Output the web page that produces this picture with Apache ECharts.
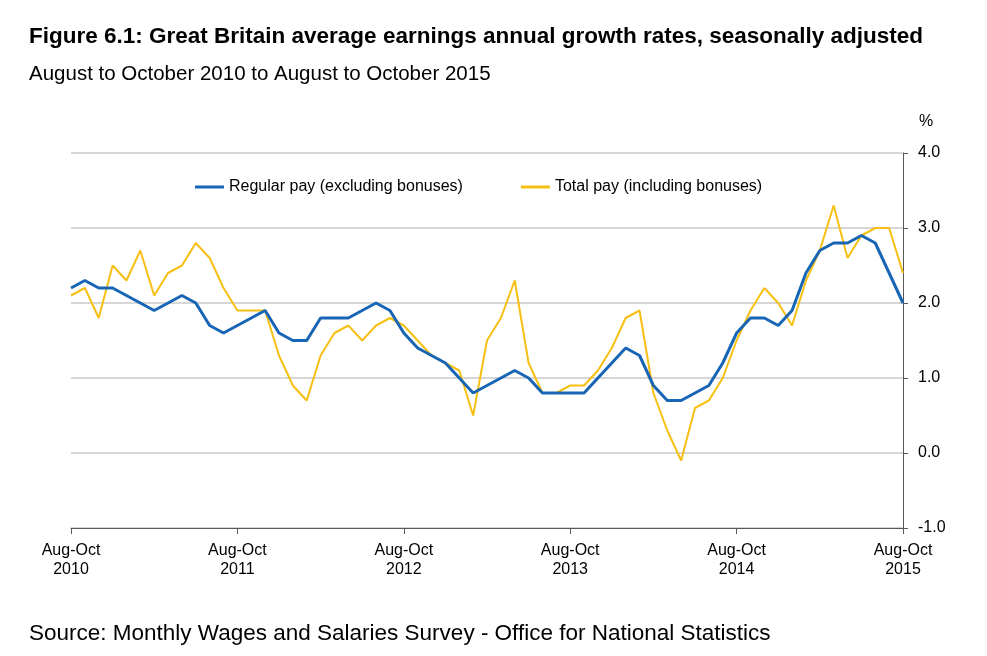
<!DOCTYPE html>
<html>
<head>
<meta charset="utf-8">
<script src="https://cdn.jsdelivr.net/npm/echarts@6/dist/echarts.min.js"></script>
<style>
html,body{margin:0;padding:0;background:#fff;}
#chart{width:987px;height:656px;}
</style>
</head>
<body>
<div id="chart"></div>
<script>
// Periods: rolling three-month periods, Aug-Oct 2010 .. Aug-Oct 2015
const months = ['Jan','Feb','Mar','Apr','May','Jun','Jul','Aug','Sep','Oct','Nov','Dec'];
const categories = [];
for (let k = 0; k < 61; k++) {
  const s = 7 + k; // Aug 2010 start
  const e = s + 2;
  const y1 = 2010 + Math.floor(e / 12);
  categories.push(months[s % 12] + '-' + months[e % 12] + ' ' + y1);
}

const regularPay = [
  2.2, 2.3, 2.2, 2.2, 2.1, 2.0, 1.9, 2.0, 2.1, 2.0, 1.7, 1.6,
  1.7, 1.8, 1.9, 1.6, 1.5, 1.5, 1.8, 1.8, 1.8, 1.9, 2.0, 1.9,
  1.6, 1.4, 1.3, 1.2, 1.0, 0.8, 0.9, 1.0, 1.1, 1.0, 0.8, 0.8,
  0.8, 0.8, 1.0, 1.2, 1.4, 1.3, 0.9, 0.7, 0.7, 0.8, 0.9, 1.2,
  1.6, 1.8, 1.8, 1.7, 1.9, 2.4, 2.7, 2.8, 2.8, 2.9, 2.8, 2.4,
  2.0
];
const totalPay = [
  2.1, 2.2, 1.8, 2.5, 2.3, 2.7, 2.1, 2.4, 2.5, 2.8, 2.6, 2.2,
  1.9, 1.9, 1.9, 1.3, 0.9, 0.7, 1.3, 1.6, 1.7, 1.5, 1.7, 1.8,
  1.7, 1.5, 1.3, 1.2, 1.1, 0.5, 1.5, 1.8, 2.3, 1.2, 0.8, 0.8,
  0.9, 0.9, 1.1, 1.4, 1.8, 1.9, 0.8, 0.3, -0.1, 0.6, 0.7, 1.0,
  1.5, 1.9, 2.2, 2.0, 1.7, 2.3, 2.7, 3.3, 2.6, 2.9, 3.0, 3.0,
  2.4
];
const yTicks = [-1, 0, 1, 2, 3, 4];

const chart = echarts.init(document.getElementById('chart'), null, {renderer: 'canvas'});
const FONT = '"Liberation Sans", Arial, sans-serif';
const annual = (i) => i % 12 === 0;

chart.setOption({
  animation: false,
  backgroundColor: '#ffffff',
  textStyle: {fontFamily: FONT},
  graphic: [
    {type: 'text', x: 29, y: 37, style: {text: 'Figure 6.1: Great Britain average earnings annual growth rates, seasonally adjusted', font: 'bold 22.5px ' + FONT, fill: '#000', textVerticalAlign: 'middle', verticalAlign: 'middle'}},
    {type: 'text', x: 29, y: 74, style: {text: 'August to October 2010 to August to October 2015', font: '20.5px ' + FONT, fill: '#000', textVerticalAlign: 'middle', verticalAlign: 'middle'}},
    {type: 'text', x: 919, y: 122, style: {text: '%', font: '16px ' + FONT, fill: '#000', textVerticalAlign: 'middle', verticalAlign: 'middle'}},
    {type: 'text', x: 29, y: 634, style: {text: 'Source: Monthly Wages and Salaries Survey - Office for National Statistics', font: '22.5px ' + FONT, fill: '#000', textVerticalAlign: 'middle', verticalAlign: 'middle'}}
  ],
  legend: {
    top: 174,
    left: 190,
    icon: 'rect',
    itemWidth: 29,
    itemHeight: 3,
    itemGap: 58,
    textStyle: {fontSize: 16, color: '#000', fontFamily: FONT},
    data: ['Regular pay (excluding bonuses)', 'Total pay (including bonuses)']
  },
  grid: {left: 71, right: 84, top: 153, bottom: 128, containLabel: false},
  xAxis: {
    type: 'category',
    data: categories,
    boundaryGap: false,
    axisLine: {onZero: false, lineStyle: {color: '#595959', width: 1}},
    axisTick: {show: true, interval: (i) => annual(i), length: 6, lineStyle: {color: '#595959'}},
    axisLabel: {
      interval: (i) => annual(i),
      formatter: (v) => {
        const p = v.split(' ');
        return p[0] + '\n' + p[1];
      },
      color: '#000', fontSize: 16, lineHeight: 19, margin: 13, fontFamily: FONT
    },
    splitLine: {show: false}
  },
  yAxis: {
    type: 'value',
    position: 'right',
    min: -1, max: 4, interval: 1,
    axisLine: {show: true, lineStyle: {color: '#595959', width: 1}},
    axisTick: {show: true, inside: false, length: 5, lineStyle: {color: '#595959'}},
    axisLabel: {formatter: (v) => v.toFixed(1), color: '#000', fontSize: 16, margin: 15, fontFamily: FONT},
    splitLine: {show: true, lineStyle: {color: '#c8c8c8', width: 1.5}}
  },
  series: [
    {
      name: 'Regular pay (excluding bonuses)',
      type: 'line',
      data: regularPay,
      symbol: 'none',
      lineStyle: {color: '#1765b4', width: 3},
      itemStyle: {color: '#1765b4'},
      z: 3
    },
    {
      name: 'Total pay (including bonuses)',
      type: 'line',
      data: totalPay,
      symbol: 'none',
      lineStyle: {color: '#f7bf12', width: 2},
      itemStyle: {color: '#f7bf12'},
      z: 2
    }
  ]
});
</script>
</body>
</html>
